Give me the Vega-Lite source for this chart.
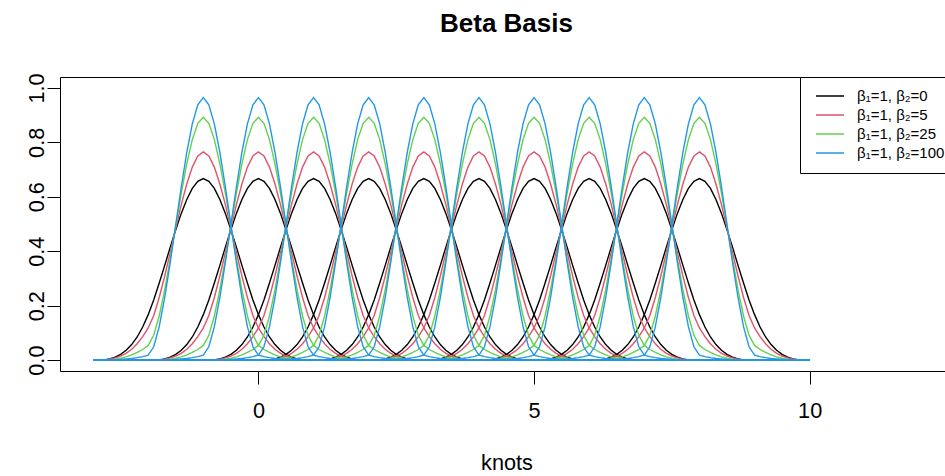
{
"$schema": "https://vega.github.io/schema/vega-lite/v6.json",
"width": 893,
"height": 294,
"autosize": {"type": "none"},
"padding": {"left": 60, "top": 77, "right": -8, "bottom": 105},
"background": "white",
"title": {"text": "Beta Basis", "anchor": "middle", "frame": "group", "font": "Liberation Sans", "fontSize": 26, "fontWeight": "bold", "color": "black", "baseline": "alphabetic", "offset": 15},
"datasets": {
"b0": [
{"k":-1,"x":-3,"y":0},{"k":-1,"x":-2.8,"y":0.001},{"k":-1,"x":-2.7,"y":0.0045},{"k":-1,"x":-2.6,"y":0.011},{"k":-1,"x":-2.5,"y":0.021},{"k":-1,"x":-2.4,"y":0.036},{"k":-1,"x":-2.3,"y":0.057},{"k":-1,"x":-2.2,"y":0.085},{"k":-1,"x":-2.1,"y":0.1215},{"k":-1,"x":-2,"y":0.167},{"k":-1,"x":-1.9,"y":0.221},{"k":-1,"x":-1.8,"y":0.283},{"k":-1,"x":-1.7,"y":0.348},{"k":-1,"x":-1.6,"y":0.415},{"k":-1,"x":-1.5,"y":0.479},{"k":-1,"x":-1.4,"y":0.539},{"k":-1,"x":-1.3,"y":0.59},{"k":-1,"x":-1.2,"y":0.631},{"k":-1,"x":-1.1,"y":0.657},{"k":-1,"x":-1,"y":0.667},{"k":-1,"x":-0.9,"y":0.657},{"k":-1,"x":-0.8,"y":0.631},{"k":-1,"x":-0.7,"y":0.59},{"k":-1,"x":-0.6,"y":0.539},{"k":-1,"x":-0.5,"y":0.479},{"k":-1,"x":-0.4,"y":0.415},{"k":-1,"x":-0.3,"y":0.348},{"k":-1,"x":-0.2,"y":0.283},{"k":-1,"x":-0.1,"y":0.221},{"k":-1,"x":0,"y":0.167},{"k":-1,"x":0.1,"y":0.1215},{"k":-1,"x":0.2,"y":0.085},{"k":-1,"x":0.3,"y":0.057},{"k":-1,"x":0.4,"y":0.036},{"k":-1,"x":0.5,"y":0.021},{"k":-1,"x":0.6,"y":0.011},{"k":-1,"x":0.7,"y":0.0045},{"k":-1,"x":0.8,"y":0.001},{"k":-1,"x":10,"y":0},
{"k":0,"x":-3,"y":0},{"k":0,"x":-1.8,"y":0.001},{"k":0,"x":-1.7,"y":0.0045},{"k":0,"x":-1.6,"y":0.011},{"k":0,"x":-1.5,"y":0.021},{"k":0,"x":-1.4,"y":0.036},{"k":0,"x":-1.3,"y":0.057},{"k":0,"x":-1.2,"y":0.085},{"k":0,"x":-1.1,"y":0.1215},{"k":0,"x":-1,"y":0.167},{"k":0,"x":-0.9,"y":0.221},{"k":0,"x":-0.8,"y":0.283},{"k":0,"x":-0.7,"y":0.348},{"k":0,"x":-0.6,"y":0.415},{"k":0,"x":-0.5,"y":0.479},{"k":0,"x":-0.4,"y":0.539},{"k":0,"x":-0.3,"y":0.59},{"k":0,"x":-0.2,"y":0.631},{"k":0,"x":-0.1,"y":0.657},{"k":0,"x":0,"y":0.667},{"k":0,"x":0.1,"y":0.657},{"k":0,"x":0.2,"y":0.631},{"k":0,"x":0.3,"y":0.59},{"k":0,"x":0.4,"y":0.539},{"k":0,"x":0.5,"y":0.479},{"k":0,"x":0.6,"y":0.415},{"k":0,"x":0.7,"y":0.348},{"k":0,"x":0.8,"y":0.283},{"k":0,"x":0.9,"y":0.221},{"k":0,"x":1,"y":0.167},{"k":0,"x":1.1,"y":0.1215},{"k":0,"x":1.2,"y":0.085},{"k":0,"x":1.3,"y":0.057},{"k":0,"x":1.4,"y":0.036},{"k":0,"x":1.5,"y":0.021},{"k":0,"x":1.6,"y":0.011},{"k":0,"x":1.7,"y":0.0045},{"k":0,"x":1.8,"y":0.001},{"k":0,"x":10,"y":0},
{"k":1,"x":-3,"y":0},{"k":1,"x":-0.8,"y":0.001},{"k":1,"x":-0.7,"y":0.0045},{"k":1,"x":-0.6,"y":0.011},{"k":1,"x":-0.5,"y":0.021},{"k":1,"x":-0.4,"y":0.036},{"k":1,"x":-0.3,"y":0.057},{"k":1,"x":-0.2,"y":0.085},{"k":1,"x":-0.1,"y":0.1215},{"k":1,"x":0,"y":0.167},{"k":1,"x":0.1,"y":0.221},{"k":1,"x":0.2,"y":0.283},{"k":1,"x":0.3,"y":0.348},{"k":1,"x":0.4,"y":0.415},{"k":1,"x":0.5,"y":0.479},{"k":1,"x":0.6,"y":0.539},{"k":1,"x":0.7,"y":0.59},{"k":1,"x":0.8,"y":0.631},{"k":1,"x":0.9,"y":0.657},{"k":1,"x":1,"y":0.667},{"k":1,"x":1.1,"y":0.657},{"k":1,"x":1.2,"y":0.631},{"k":1,"x":1.3,"y":0.59},{"k":1,"x":1.4,"y":0.539},{"k":1,"x":1.5,"y":0.479},{"k":1,"x":1.6,"y":0.415},{"k":1,"x":1.7,"y":0.348},{"k":1,"x":1.8,"y":0.283},{"k":1,"x":1.9,"y":0.221},{"k":1,"x":2,"y":0.167},{"k":1,"x":2.1,"y":0.1215},{"k":1,"x":2.2,"y":0.085},{"k":1,"x":2.3,"y":0.057},{"k":1,"x":2.4,"y":0.036},{"k":1,"x":2.5,"y":0.021},{"k":1,"x":2.6,"y":0.011},{"k":1,"x":2.7,"y":0.0045},{"k":1,"x":2.8,"y":0.001},{"k":1,"x":10,"y":0},
{"k":2,"x":-3,"y":0},{"k":2,"x":0.2,"y":0.001},{"k":2,"x":0.3,"y":0.0045},{"k":2,"x":0.4,"y":0.011},{"k":2,"x":0.5,"y":0.021},{"k":2,"x":0.6,"y":0.036},{"k":2,"x":0.7,"y":0.057},{"k":2,"x":0.8,"y":0.085},{"k":2,"x":0.9,"y":0.1215},{"k":2,"x":1,"y":0.167},{"k":2,"x":1.1,"y":0.221},{"k":2,"x":1.2,"y":0.283},{"k":2,"x":1.3,"y":0.348},{"k":2,"x":1.4,"y":0.415},{"k":2,"x":1.5,"y":0.479},{"k":2,"x":1.6,"y":0.539},{"k":2,"x":1.7,"y":0.59},{"k":2,"x":1.8,"y":0.631},{"k":2,"x":1.9,"y":0.657},{"k":2,"x":2,"y":0.667},{"k":2,"x":2.1,"y":0.657},{"k":2,"x":2.2,"y":0.631},{"k":2,"x":2.3,"y":0.59},{"k":2,"x":2.4,"y":0.539},{"k":2,"x":2.5,"y":0.479},{"k":2,"x":2.6,"y":0.415},{"k":2,"x":2.7,"y":0.348},{"k":2,"x":2.8,"y":0.283},{"k":2,"x":2.9,"y":0.221},{"k":2,"x":3,"y":0.167},{"k":2,"x":3.1,"y":0.1215},{"k":2,"x":3.2,"y":0.085},{"k":2,"x":3.3,"y":0.057},{"k":2,"x":3.4,"y":0.036},{"k":2,"x":3.5,"y":0.021},{"k":2,"x":3.6,"y":0.011},{"k":2,"x":3.7,"y":0.0045},{"k":2,"x":3.8,"y":0.001},{"k":2,"x":10,"y":0},
{"k":3,"x":-3,"y":0},{"k":3,"x":1.2,"y":0.001},{"k":3,"x":1.3,"y":0.0045},{"k":3,"x":1.4,"y":0.011},{"k":3,"x":1.5,"y":0.021},{"k":3,"x":1.6,"y":0.036},{"k":3,"x":1.7,"y":0.057},{"k":3,"x":1.8,"y":0.085},{"k":3,"x":1.9,"y":0.1215},{"k":3,"x":2,"y":0.167},{"k":3,"x":2.1,"y":0.221},{"k":3,"x":2.2,"y":0.283},{"k":3,"x":2.3,"y":0.348},{"k":3,"x":2.4,"y":0.415},{"k":3,"x":2.5,"y":0.479},{"k":3,"x":2.6,"y":0.539},{"k":3,"x":2.7,"y":0.59},{"k":3,"x":2.8,"y":0.631},{"k":3,"x":2.9,"y":0.657},{"k":3,"x":3,"y":0.667},{"k":3,"x":3.1,"y":0.657},{"k":3,"x":3.2,"y":0.631},{"k":3,"x":3.3,"y":0.59},{"k":3,"x":3.4,"y":0.539},{"k":3,"x":3.5,"y":0.479},{"k":3,"x":3.6,"y":0.415},{"k":3,"x":3.7,"y":0.348},{"k":3,"x":3.8,"y":0.283},{"k":3,"x":3.9,"y":0.221},{"k":3,"x":4,"y":0.167},{"k":3,"x":4.1,"y":0.1215},{"k":3,"x":4.2,"y":0.085},{"k":3,"x":4.3,"y":0.057},{"k":3,"x":4.4,"y":0.036},{"k":3,"x":4.5,"y":0.021},{"k":3,"x":4.6,"y":0.011},{"k":3,"x":4.7,"y":0.0045},{"k":3,"x":4.8,"y":0.001},{"k":3,"x":10,"y":0},
{"k":4,"x":-3,"y":0},{"k":4,"x":2.2,"y":0.001},{"k":4,"x":2.3,"y":0.0045},{"k":4,"x":2.4,"y":0.011},{"k":4,"x":2.5,"y":0.021},{"k":4,"x":2.6,"y":0.036},{"k":4,"x":2.7,"y":0.057},{"k":4,"x":2.8,"y":0.085},{"k":4,"x":2.9,"y":0.1215},{"k":4,"x":3,"y":0.167},{"k":4,"x":3.1,"y":0.221},{"k":4,"x":3.2,"y":0.283},{"k":4,"x":3.3,"y":0.348},{"k":4,"x":3.4,"y":0.415},{"k":4,"x":3.5,"y":0.479},{"k":4,"x":3.6,"y":0.539},{"k":4,"x":3.7,"y":0.59},{"k":4,"x":3.8,"y":0.631},{"k":4,"x":3.9,"y":0.657},{"k":4,"x":4,"y":0.667},{"k":4,"x":4.1,"y":0.657},{"k":4,"x":4.2,"y":0.631},{"k":4,"x":4.3,"y":0.59},{"k":4,"x":4.4,"y":0.539},{"k":4,"x":4.5,"y":0.479},{"k":4,"x":4.6,"y":0.415},{"k":4,"x":4.7,"y":0.348},{"k":4,"x":4.8,"y":0.283},{"k":4,"x":4.9,"y":0.221},{"k":4,"x":5,"y":0.167},{"k":4,"x":5.1,"y":0.1215},{"k":4,"x":5.2,"y":0.085},{"k":4,"x":5.3,"y":0.057},{"k":4,"x":5.4,"y":0.036},{"k":4,"x":5.5,"y":0.021},{"k":4,"x":5.6,"y":0.011},{"k":4,"x":5.7,"y":0.0045},{"k":4,"x":5.8,"y":0.001},{"k":4,"x":10,"y":0},
{"k":5,"x":-3,"y":0},{"k":5,"x":3.2,"y":0.001},{"k":5,"x":3.3,"y":0.0045},{"k":5,"x":3.4,"y":0.011},{"k":5,"x":3.5,"y":0.021},{"k":5,"x":3.6,"y":0.036},{"k":5,"x":3.7,"y":0.057},{"k":5,"x":3.8,"y":0.085},{"k":5,"x":3.9,"y":0.1215},{"k":5,"x":4,"y":0.167},{"k":5,"x":4.1,"y":0.221},{"k":5,"x":4.2,"y":0.283},{"k":5,"x":4.3,"y":0.348},{"k":5,"x":4.4,"y":0.415},{"k":5,"x":4.5,"y":0.479},{"k":5,"x":4.6,"y":0.539},{"k":5,"x":4.7,"y":0.59},{"k":5,"x":4.8,"y":0.631},{"k":5,"x":4.9,"y":0.657},{"k":5,"x":5,"y":0.667},{"k":5,"x":5.1,"y":0.657},{"k":5,"x":5.2,"y":0.631},{"k":5,"x":5.3,"y":0.59},{"k":5,"x":5.4,"y":0.539},{"k":5,"x":5.5,"y":0.479},{"k":5,"x":5.6,"y":0.415},{"k":5,"x":5.7,"y":0.348},{"k":5,"x":5.8,"y":0.283},{"k":5,"x":5.9,"y":0.221},{"k":5,"x":6,"y":0.167},{"k":5,"x":6.1,"y":0.1215},{"k":5,"x":6.2,"y":0.085},{"k":5,"x":6.3,"y":0.057},{"k":5,"x":6.4,"y":0.036},{"k":5,"x":6.5,"y":0.021},{"k":5,"x":6.6,"y":0.011},{"k":5,"x":6.7,"y":0.0045},{"k":5,"x":6.8,"y":0.001},{"k":5,"x":10,"y":0},
{"k":6,"x":-3,"y":0},{"k":6,"x":4.2,"y":0.001},{"k":6,"x":4.3,"y":0.0045},{"k":6,"x":4.4,"y":0.011},{"k":6,"x":4.5,"y":0.021},{"k":6,"x":4.6,"y":0.036},{"k":6,"x":4.7,"y":0.057},{"k":6,"x":4.8,"y":0.085},{"k":6,"x":4.9,"y":0.1215},{"k":6,"x":5,"y":0.167},{"k":6,"x":5.1,"y":0.221},{"k":6,"x":5.2,"y":0.283},{"k":6,"x":5.3,"y":0.348},{"k":6,"x":5.4,"y":0.415},{"k":6,"x":5.5,"y":0.479},{"k":6,"x":5.6,"y":0.539},{"k":6,"x":5.7,"y":0.59},{"k":6,"x":5.8,"y":0.631},{"k":6,"x":5.9,"y":0.657},{"k":6,"x":6,"y":0.667},{"k":6,"x":6.1,"y":0.657},{"k":6,"x":6.2,"y":0.631},{"k":6,"x":6.3,"y":0.59},{"k":6,"x":6.4,"y":0.539},{"k":6,"x":6.5,"y":0.479},{"k":6,"x":6.6,"y":0.415},{"k":6,"x":6.7,"y":0.348},{"k":6,"x":6.8,"y":0.283},{"k":6,"x":6.9,"y":0.221},{"k":6,"x":7,"y":0.167},{"k":6,"x":7.1,"y":0.1215},{"k":6,"x":7.2,"y":0.085},{"k":6,"x":7.3,"y":0.057},{"k":6,"x":7.4,"y":0.036},{"k":6,"x":7.5,"y":0.021},{"k":6,"x":7.6,"y":0.011},{"k":6,"x":7.7,"y":0.0045},{"k":6,"x":7.8,"y":0.001},{"k":6,"x":10,"y":0},
{"k":7,"x":-3,"y":0},{"k":7,"x":5.2,"y":0.001},{"k":7,"x":5.3,"y":0.0045},{"k":7,"x":5.4,"y":0.011},{"k":7,"x":5.5,"y":0.021},{"k":7,"x":5.6,"y":0.036},{"k":7,"x":5.7,"y":0.057},{"k":7,"x":5.8,"y":0.085},{"k":7,"x":5.9,"y":0.1215},{"k":7,"x":6,"y":0.167},{"k":7,"x":6.1,"y":0.221},{"k":7,"x":6.2,"y":0.283},{"k":7,"x":6.3,"y":0.348},{"k":7,"x":6.4,"y":0.415},{"k":7,"x":6.5,"y":0.479},{"k":7,"x":6.6,"y":0.539},{"k":7,"x":6.7,"y":0.59},{"k":7,"x":6.8,"y":0.631},{"k":7,"x":6.9,"y":0.657},{"k":7,"x":7,"y":0.667},{"k":7,"x":7.1,"y":0.657},{"k":7,"x":7.2,"y":0.631},{"k":7,"x":7.3,"y":0.59},{"k":7,"x":7.4,"y":0.539},{"k":7,"x":7.5,"y":0.479},{"k":7,"x":7.6,"y":0.415},{"k":7,"x":7.7,"y":0.348},{"k":7,"x":7.8,"y":0.283},{"k":7,"x":7.9,"y":0.221},{"k":7,"x":8,"y":0.167},{"k":7,"x":8.1,"y":0.1215},{"k":7,"x":8.2,"y":0.085},{"k":7,"x":8.3,"y":0.057},{"k":7,"x":8.4,"y":0.036},{"k":7,"x":8.5,"y":0.021},{"k":7,"x":8.6,"y":0.011},{"k":7,"x":8.7,"y":0.0045},{"k":7,"x":8.8,"y":0.001},{"k":7,"x":10,"y":0},
{"k":8,"x":-3,"y":0},{"k":8,"x":6.2,"y":0.001},{"k":8,"x":6.3,"y":0.0045},{"k":8,"x":6.4,"y":0.011},{"k":8,"x":6.5,"y":0.021},{"k":8,"x":6.6,"y":0.036},{"k":8,"x":6.7,"y":0.057},{"k":8,"x":6.8,"y":0.085},{"k":8,"x":6.9,"y":0.1215},{"k":8,"x":7,"y":0.167},{"k":8,"x":7.1,"y":0.221},{"k":8,"x":7.2,"y":0.283},{"k":8,"x":7.3,"y":0.348},{"k":8,"x":7.4,"y":0.415},{"k":8,"x":7.5,"y":0.479},{"k":8,"x":7.6,"y":0.539},{"k":8,"x":7.7,"y":0.59},{"k":8,"x":7.8,"y":0.631},{"k":8,"x":7.9,"y":0.657},{"k":8,"x":8,"y":0.667},{"k":8,"x":8.1,"y":0.657},{"k":8,"x":8.2,"y":0.631},{"k":8,"x":8.3,"y":0.59},{"k":8,"x":8.4,"y":0.539},{"k":8,"x":8.5,"y":0.479},{"k":8,"x":8.6,"y":0.415},{"k":8,"x":8.7,"y":0.348},{"k":8,"x":8.8,"y":0.283},{"k":8,"x":8.9,"y":0.221},{"k":8,"x":9,"y":0.167},{"k":8,"x":9.1,"y":0.1215},{"k":8,"x":9.2,"y":0.085},{"k":8,"x":9.3,"y":0.057},{"k":8,"x":9.4,"y":0.036},{"k":8,"x":9.5,"y":0.021},{"k":8,"x":9.6,"y":0.011},{"k":8,"x":9.7,"y":0.0045},{"k":8,"x":9.8,"y":0.001},{"k":8,"x":10,"y":0}
],
"b5": [
{"k":-1,"x":-3,"y":0},{"k":-1,"x":-2.8,"y":0.001},{"k":-1,"x":-2.7,"y":0.003},{"k":-1,"x":-2.6,"y":0.008},{"k":-1,"x":-2.5,"y":0.015},{"k":-1,"x":-2.4,"y":0.025},{"k":-1,"x":-2.3,"y":0.04},{"k":-1,"x":-2.2,"y":0.06},{"k":-1,"x":-2.1,"y":0.086},{"k":-1,"x":-2,"y":0.118},{"k":-1,"x":-1.9,"y":0.164},{"k":-1,"x":-1.8,"y":0.23},{"k":-1,"x":-1.7,"y":0.309},{"k":-1,"x":-1.6,"y":0.396},{"k":-1,"x":-1.5,"y":0.485},{"k":-1,"x":-1.4,"y":0.571},{"k":-1,"x":-1.3,"y":0.647},{"k":-1,"x":-1.2,"y":0.709},{"k":-1,"x":-1.1,"y":0.75},{"k":-1,"x":-1,"y":0.765},{"k":-1,"x":-0.9,"y":0.75},{"k":-1,"x":-0.8,"y":0.709},{"k":-1,"x":-0.7,"y":0.647},{"k":-1,"x":-0.6,"y":0.571},{"k":-1,"x":-0.5,"y":0.485},{"k":-1,"x":-0.4,"y":0.396},{"k":-1,"x":-0.3,"y":0.309},{"k":-1,"x":-0.2,"y":0.23},{"k":-1,"x":-0.1,"y":0.164},{"k":-1,"x":0,"y":0.118},{"k":-1,"x":0.1,"y":0.086},{"k":-1,"x":0.2,"y":0.06},{"k":-1,"x":0.3,"y":0.04},{"k":-1,"x":0.4,"y":0.025},{"k":-1,"x":0.5,"y":0.015},{"k":-1,"x":0.6,"y":0.008},{"k":-1,"x":0.7,"y":0.003},{"k":-1,"x":0.8,"y":0.001},{"k":-1,"x":10,"y":0},
{"k":0,"x":-3,"y":0},{"k":0,"x":-1.8,"y":0.001},{"k":0,"x":-1.7,"y":0.003},{"k":0,"x":-1.6,"y":0.008},{"k":0,"x":-1.5,"y":0.015},{"k":0,"x":-1.4,"y":0.025},{"k":0,"x":-1.3,"y":0.04},{"k":0,"x":-1.2,"y":0.06},{"k":0,"x":-1.1,"y":0.086},{"k":0,"x":-1,"y":0.118},{"k":0,"x":-0.9,"y":0.164},{"k":0,"x":-0.8,"y":0.23},{"k":0,"x":-0.7,"y":0.309},{"k":0,"x":-0.6,"y":0.396},{"k":0,"x":-0.5,"y":0.485},{"k":0,"x":-0.4,"y":0.571},{"k":0,"x":-0.3,"y":0.647},{"k":0,"x":-0.2,"y":0.709},{"k":0,"x":-0.1,"y":0.75},{"k":0,"x":0,"y":0.765},{"k":0,"x":0.1,"y":0.75},{"k":0,"x":0.2,"y":0.709},{"k":0,"x":0.3,"y":0.647},{"k":0,"x":0.4,"y":0.571},{"k":0,"x":0.5,"y":0.485},{"k":0,"x":0.6,"y":0.396},{"k":0,"x":0.7,"y":0.309},{"k":0,"x":0.8,"y":0.23},{"k":0,"x":0.9,"y":0.164},{"k":0,"x":1,"y":0.118},{"k":0,"x":1.1,"y":0.086},{"k":0,"x":1.2,"y":0.06},{"k":0,"x":1.3,"y":0.04},{"k":0,"x":1.4,"y":0.025},{"k":0,"x":1.5,"y":0.015},{"k":0,"x":1.6,"y":0.008},{"k":0,"x":1.7,"y":0.003},{"k":0,"x":1.8,"y":0.001},{"k":0,"x":10,"y":0},
{"k":1,"x":-3,"y":0},{"k":1,"x":-0.8,"y":0.001},{"k":1,"x":-0.7,"y":0.003},{"k":1,"x":-0.6,"y":0.008},{"k":1,"x":-0.5,"y":0.015},{"k":1,"x":-0.4,"y":0.025},{"k":1,"x":-0.3,"y":0.04},{"k":1,"x":-0.2,"y":0.06},{"k":1,"x":-0.1,"y":0.086},{"k":1,"x":0,"y":0.118},{"k":1,"x":0.1,"y":0.164},{"k":1,"x":0.2,"y":0.23},{"k":1,"x":0.3,"y":0.309},{"k":1,"x":0.4,"y":0.396},{"k":1,"x":0.5,"y":0.485},{"k":1,"x":0.6,"y":0.571},{"k":1,"x":0.7,"y":0.647},{"k":1,"x":0.8,"y":0.709},{"k":1,"x":0.9,"y":0.75},{"k":1,"x":1,"y":0.765},{"k":1,"x":1.1,"y":0.75},{"k":1,"x":1.2,"y":0.709},{"k":1,"x":1.3,"y":0.647},{"k":1,"x":1.4,"y":0.571},{"k":1,"x":1.5,"y":0.485},{"k":1,"x":1.6,"y":0.396},{"k":1,"x":1.7,"y":0.309},{"k":1,"x":1.8,"y":0.23},{"k":1,"x":1.9,"y":0.164},{"k":1,"x":2,"y":0.118},{"k":1,"x":2.1,"y":0.086},{"k":1,"x":2.2,"y":0.06},{"k":1,"x":2.3,"y":0.04},{"k":1,"x":2.4,"y":0.025},{"k":1,"x":2.5,"y":0.015},{"k":1,"x":2.6,"y":0.008},{"k":1,"x":2.7,"y":0.003},{"k":1,"x":2.8,"y":0.001},{"k":1,"x":10,"y":0},
{"k":2,"x":-3,"y":0},{"k":2,"x":0.2,"y":0.001},{"k":2,"x":0.3,"y":0.003},{"k":2,"x":0.4,"y":0.008},{"k":2,"x":0.5,"y":0.015},{"k":2,"x":0.6,"y":0.025},{"k":2,"x":0.7,"y":0.04},{"k":2,"x":0.8,"y":0.06},{"k":2,"x":0.9,"y":0.086},{"k":2,"x":1,"y":0.118},{"k":2,"x":1.1,"y":0.164},{"k":2,"x":1.2,"y":0.23},{"k":2,"x":1.3,"y":0.309},{"k":2,"x":1.4,"y":0.396},{"k":2,"x":1.5,"y":0.485},{"k":2,"x":1.6,"y":0.571},{"k":2,"x":1.7,"y":0.647},{"k":2,"x":1.8,"y":0.709},{"k":2,"x":1.9,"y":0.75},{"k":2,"x":2,"y":0.765},{"k":2,"x":2.1,"y":0.75},{"k":2,"x":2.2,"y":0.709},{"k":2,"x":2.3,"y":0.647},{"k":2,"x":2.4,"y":0.571},{"k":2,"x":2.5,"y":0.485},{"k":2,"x":2.6,"y":0.396},{"k":2,"x":2.7,"y":0.309},{"k":2,"x":2.8,"y":0.23},{"k":2,"x":2.9,"y":0.164},{"k":2,"x":3,"y":0.118},{"k":2,"x":3.1,"y":0.086},{"k":2,"x":3.2,"y":0.06},{"k":2,"x":3.3,"y":0.04},{"k":2,"x":3.4,"y":0.025},{"k":2,"x":3.5,"y":0.015},{"k":2,"x":3.6,"y":0.008},{"k":2,"x":3.7,"y":0.003},{"k":2,"x":3.8,"y":0.001},{"k":2,"x":10,"y":0},
{"k":3,"x":-3,"y":0},{"k":3,"x":1.2,"y":0.001},{"k":3,"x":1.3,"y":0.003},{"k":3,"x":1.4,"y":0.008},{"k":3,"x":1.5,"y":0.015},{"k":3,"x":1.6,"y":0.025},{"k":3,"x":1.7,"y":0.04},{"k":3,"x":1.8,"y":0.06},{"k":3,"x":1.9,"y":0.086},{"k":3,"x":2,"y":0.118},{"k":3,"x":2.1,"y":0.164},{"k":3,"x":2.2,"y":0.23},{"k":3,"x":2.3,"y":0.309},{"k":3,"x":2.4,"y":0.396},{"k":3,"x":2.5,"y":0.485},{"k":3,"x":2.6,"y":0.571},{"k":3,"x":2.7,"y":0.647},{"k":3,"x":2.8,"y":0.709},{"k":3,"x":2.9,"y":0.75},{"k":3,"x":3,"y":0.765},{"k":3,"x":3.1,"y":0.75},{"k":3,"x":3.2,"y":0.709},{"k":3,"x":3.3,"y":0.647},{"k":3,"x":3.4,"y":0.571},{"k":3,"x":3.5,"y":0.485},{"k":3,"x":3.6,"y":0.396},{"k":3,"x":3.7,"y":0.309},{"k":3,"x":3.8,"y":0.23},{"k":3,"x":3.9,"y":0.164},{"k":3,"x":4,"y":0.118},{"k":3,"x":4.1,"y":0.086},{"k":3,"x":4.2,"y":0.06},{"k":3,"x":4.3,"y":0.04},{"k":3,"x":4.4,"y":0.025},{"k":3,"x":4.5,"y":0.015},{"k":3,"x":4.6,"y":0.008},{"k":3,"x":4.7,"y":0.003},{"k":3,"x":4.8,"y":0.001},{"k":3,"x":10,"y":0},
{"k":4,"x":-3,"y":0},{"k":4,"x":2.2,"y":0.001},{"k":4,"x":2.3,"y":0.003},{"k":4,"x":2.4,"y":0.008},{"k":4,"x":2.5,"y":0.015},{"k":4,"x":2.6,"y":0.025},{"k":4,"x":2.7,"y":0.04},{"k":4,"x":2.8,"y":0.06},{"k":4,"x":2.9,"y":0.086},{"k":4,"x":3,"y":0.118},{"k":4,"x":3.1,"y":0.164},{"k":4,"x":3.2,"y":0.23},{"k":4,"x":3.3,"y":0.309},{"k":4,"x":3.4,"y":0.396},{"k":4,"x":3.5,"y":0.485},{"k":4,"x":3.6,"y":0.571},{"k":4,"x":3.7,"y":0.647},{"k":4,"x":3.8,"y":0.709},{"k":4,"x":3.9,"y":0.75},{"k":4,"x":4,"y":0.765},{"k":4,"x":4.1,"y":0.75},{"k":4,"x":4.2,"y":0.709},{"k":4,"x":4.3,"y":0.647},{"k":4,"x":4.4,"y":0.571},{"k":4,"x":4.5,"y":0.485},{"k":4,"x":4.6,"y":0.396},{"k":4,"x":4.7,"y":0.309},{"k":4,"x":4.8,"y":0.23},{"k":4,"x":4.9,"y":0.164},{"k":4,"x":5,"y":0.118},{"k":4,"x":5.1,"y":0.086},{"k":4,"x":5.2,"y":0.06},{"k":4,"x":5.3,"y":0.04},{"k":4,"x":5.4,"y":0.025},{"k":4,"x":5.5,"y":0.015},{"k":4,"x":5.6,"y":0.008},{"k":4,"x":5.7,"y":0.003},{"k":4,"x":5.8,"y":0.001},{"k":4,"x":10,"y":0},
{"k":5,"x":-3,"y":0},{"k":5,"x":3.2,"y":0.001},{"k":5,"x":3.3,"y":0.003},{"k":5,"x":3.4,"y":0.008},{"k":5,"x":3.5,"y":0.015},{"k":5,"x":3.6,"y":0.025},{"k":5,"x":3.7,"y":0.04},{"k":5,"x":3.8,"y":0.06},{"k":5,"x":3.9,"y":0.086},{"k":5,"x":4,"y":0.118},{"k":5,"x":4.1,"y":0.164},{"k":5,"x":4.2,"y":0.23},{"k":5,"x":4.3,"y":0.309},{"k":5,"x":4.4,"y":0.396},{"k":5,"x":4.5,"y":0.485},{"k":5,"x":4.6,"y":0.571},{"k":5,"x":4.7,"y":0.647},{"k":5,"x":4.8,"y":0.709},{"k":5,"x":4.9,"y":0.75},{"k":5,"x":5,"y":0.765},{"k":5,"x":5.1,"y":0.75},{"k":5,"x":5.2,"y":0.709},{"k":5,"x":5.3,"y":0.647},{"k":5,"x":5.4,"y":0.571},{"k":5,"x":5.5,"y":0.485},{"k":5,"x":5.6,"y":0.396},{"k":5,"x":5.7,"y":0.309},{"k":5,"x":5.8,"y":0.23},{"k":5,"x":5.9,"y":0.164},{"k":5,"x":6,"y":0.118},{"k":5,"x":6.1,"y":0.086},{"k":5,"x":6.2,"y":0.06},{"k":5,"x":6.3,"y":0.04},{"k":5,"x":6.4,"y":0.025},{"k":5,"x":6.5,"y":0.015},{"k":5,"x":6.6,"y":0.008},{"k":5,"x":6.7,"y":0.003},{"k":5,"x":6.8,"y":0.001},{"k":5,"x":10,"y":0},
{"k":6,"x":-3,"y":0},{"k":6,"x":4.2,"y":0.001},{"k":6,"x":4.3,"y":0.003},{"k":6,"x":4.4,"y":0.008},{"k":6,"x":4.5,"y":0.015},{"k":6,"x":4.6,"y":0.025},{"k":6,"x":4.7,"y":0.04},{"k":6,"x":4.8,"y":0.06},{"k":6,"x":4.9,"y":0.086},{"k":6,"x":5,"y":0.118},{"k":6,"x":5.1,"y":0.164},{"k":6,"x":5.2,"y":0.23},{"k":6,"x":5.3,"y":0.309},{"k":6,"x":5.4,"y":0.396},{"k":6,"x":5.5,"y":0.485},{"k":6,"x":5.6,"y":0.571},{"k":6,"x":5.7,"y":0.647},{"k":6,"x":5.8,"y":0.709},{"k":6,"x":5.9,"y":0.75},{"k":6,"x":6,"y":0.765},{"k":6,"x":6.1,"y":0.75},{"k":6,"x":6.2,"y":0.709},{"k":6,"x":6.3,"y":0.647},{"k":6,"x":6.4,"y":0.571},{"k":6,"x":6.5,"y":0.485},{"k":6,"x":6.6,"y":0.396},{"k":6,"x":6.7,"y":0.309},{"k":6,"x":6.8,"y":0.23},{"k":6,"x":6.9,"y":0.164},{"k":6,"x":7,"y":0.118},{"k":6,"x":7.1,"y":0.086},{"k":6,"x":7.2,"y":0.06},{"k":6,"x":7.3,"y":0.04},{"k":6,"x":7.4,"y":0.025},{"k":6,"x":7.5,"y":0.015},{"k":6,"x":7.6,"y":0.008},{"k":6,"x":7.7,"y":0.003},{"k":6,"x":7.8,"y":0.001},{"k":6,"x":10,"y":0},
{"k":7,"x":-3,"y":0},{"k":7,"x":5.2,"y":0.001},{"k":7,"x":5.3,"y":0.003},{"k":7,"x":5.4,"y":0.008},{"k":7,"x":5.5,"y":0.015},{"k":7,"x":5.6,"y":0.025},{"k":7,"x":5.7,"y":0.04},{"k":7,"x":5.8,"y":0.06},{"k":7,"x":5.9,"y":0.086},{"k":7,"x":6,"y":0.118},{"k":7,"x":6.1,"y":0.164},{"k":7,"x":6.2,"y":0.23},{"k":7,"x":6.3,"y":0.309},{"k":7,"x":6.4,"y":0.396},{"k":7,"x":6.5,"y":0.485},{"k":7,"x":6.6,"y":0.571},{"k":7,"x":6.7,"y":0.647},{"k":7,"x":6.8,"y":0.709},{"k":7,"x":6.9,"y":0.75},{"k":7,"x":7,"y":0.765},{"k":7,"x":7.1,"y":0.75},{"k":7,"x":7.2,"y":0.709},{"k":7,"x":7.3,"y":0.647},{"k":7,"x":7.4,"y":0.571},{"k":7,"x":7.5,"y":0.485},{"k":7,"x":7.6,"y":0.396},{"k":7,"x":7.7,"y":0.309},{"k":7,"x":7.8,"y":0.23},{"k":7,"x":7.9,"y":0.164},{"k":7,"x":8,"y":0.118},{"k":7,"x":8.1,"y":0.086},{"k":7,"x":8.2,"y":0.06},{"k":7,"x":8.3,"y":0.04},{"k":7,"x":8.4,"y":0.025},{"k":7,"x":8.5,"y":0.015},{"k":7,"x":8.6,"y":0.008},{"k":7,"x":8.7,"y":0.003},{"k":7,"x":8.8,"y":0.001},{"k":7,"x":10,"y":0},
{"k":8,"x":-3,"y":0},{"k":8,"x":6.2,"y":0.001},{"k":8,"x":6.3,"y":0.003},{"k":8,"x":6.4,"y":0.008},{"k":8,"x":6.5,"y":0.015},{"k":8,"x":6.6,"y":0.025},{"k":8,"x":6.7,"y":0.04},{"k":8,"x":6.8,"y":0.06},{"k":8,"x":6.9,"y":0.086},{"k":8,"x":7,"y":0.118},{"k":8,"x":7.1,"y":0.164},{"k":8,"x":7.2,"y":0.23},{"k":8,"x":7.3,"y":0.309},{"k":8,"x":7.4,"y":0.396},{"k":8,"x":7.5,"y":0.485},{"k":8,"x":7.6,"y":0.571},{"k":8,"x":7.7,"y":0.647},{"k":8,"x":7.8,"y":0.709},{"k":8,"x":7.9,"y":0.75},{"k":8,"x":8,"y":0.765},{"k":8,"x":8.1,"y":0.75},{"k":8,"x":8.2,"y":0.709},{"k":8,"x":8.3,"y":0.647},{"k":8,"x":8.4,"y":0.571},{"k":8,"x":8.5,"y":0.485},{"k":8,"x":8.6,"y":0.396},{"k":8,"x":8.7,"y":0.309},{"k":8,"x":8.8,"y":0.23},{"k":8,"x":8.9,"y":0.164},{"k":8,"x":9,"y":0.118},{"k":8,"x":9.1,"y":0.086},{"k":8,"x":9.2,"y":0.06},{"k":8,"x":9.3,"y":0.04},{"k":8,"x":9.4,"y":0.025},{"k":8,"x":9.5,"y":0.015},{"k":8,"x":9.6,"y":0.008},{"k":8,"x":9.7,"y":0.003},{"k":8,"x":9.8,"y":0.001},{"k":8,"x":10,"y":0}
],
"b25": [
{"k":-1,"x":-3,"y":0},{"k":-1,"x":-2.7,"y":0.001},{"k":-1,"x":-2.6,"y":0.003},{"k":-1,"x":-2.5,"y":0.007},{"k":-1,"x":-2.4,"y":0.012},{"k":-1,"x":-2.3,"y":0.019},{"k":-1,"x":-2.2,"y":0.028},{"k":-1,"x":-2.1,"y":0.039},{"k":-1,"x":-2,"y":0.054},{"k":-1,"x":-1.9,"y":0.091},{"k":-1,"x":-1.8,"y":0.162},{"k":-1,"x":-1.7,"y":0.259},{"k":-1,"x":-1.6,"y":0.372},{"k":-1,"x":-1.5,"y":0.493},{"k":-1,"x":-1.4,"y":0.613},{"k":-1,"x":-1.3,"y":0.721},{"k":-1,"x":-1.2,"y":0.81},{"k":-1,"x":-1.1,"y":0.87},{"k":-1,"x":-1,"y":0.892},{"k":-1,"x":-0.9,"y":0.87},{"k":-1,"x":-0.8,"y":0.81},{"k":-1,"x":-0.7,"y":0.721},{"k":-1,"x":-0.6,"y":0.613},{"k":-1,"x":-0.5,"y":0.493},{"k":-1,"x":-0.4,"y":0.372},{"k":-1,"x":-0.3,"y":0.259},{"k":-1,"x":-0.2,"y":0.162},{"k":-1,"x":-0.1,"y":0.091},{"k":-1,"x":0,"y":0.054},{"k":-1,"x":0.1,"y":0.039},{"k":-1,"x":0.2,"y":0.028},{"k":-1,"x":0.3,"y":0.019},{"k":-1,"x":0.4,"y":0.012},{"k":-1,"x":0.5,"y":0.007},{"k":-1,"x":0.6,"y":0.003},{"k":-1,"x":0.7,"y":0.001},{"k":-1,"x":10,"y":0},
{"k":0,"x":-3,"y":0},{"k":0,"x":-1.7,"y":0.001},{"k":0,"x":-1.6,"y":0.003},{"k":0,"x":-1.5,"y":0.007},{"k":0,"x":-1.4,"y":0.012},{"k":0,"x":-1.3,"y":0.019},{"k":0,"x":-1.2,"y":0.028},{"k":0,"x":-1.1,"y":0.039},{"k":0,"x":-1,"y":0.054},{"k":0,"x":-0.9,"y":0.091},{"k":0,"x":-0.8,"y":0.162},{"k":0,"x":-0.7,"y":0.259},{"k":0,"x":-0.6,"y":0.372},{"k":0,"x":-0.5,"y":0.493},{"k":0,"x":-0.4,"y":0.613},{"k":0,"x":-0.3,"y":0.721},{"k":0,"x":-0.2,"y":0.81},{"k":0,"x":-0.1,"y":0.87},{"k":0,"x":0,"y":0.892},{"k":0,"x":0.1,"y":0.87},{"k":0,"x":0.2,"y":0.81},{"k":0,"x":0.3,"y":0.721},{"k":0,"x":0.4,"y":0.613},{"k":0,"x":0.5,"y":0.493},{"k":0,"x":0.6,"y":0.372},{"k":0,"x":0.7,"y":0.259},{"k":0,"x":0.8,"y":0.162},{"k":0,"x":0.9,"y":0.091},{"k":0,"x":1,"y":0.054},{"k":0,"x":1.1,"y":0.039},{"k":0,"x":1.2,"y":0.028},{"k":0,"x":1.3,"y":0.019},{"k":0,"x":1.4,"y":0.012},{"k":0,"x":1.5,"y":0.007},{"k":0,"x":1.6,"y":0.003},{"k":0,"x":1.7,"y":0.001},{"k":0,"x":10,"y":0},
{"k":1,"x":-3,"y":0},{"k":1,"x":-0.7,"y":0.001},{"k":1,"x":-0.6,"y":0.003},{"k":1,"x":-0.5,"y":0.007},{"k":1,"x":-0.4,"y":0.012},{"k":1,"x":-0.3,"y":0.019},{"k":1,"x":-0.2,"y":0.028},{"k":1,"x":-0.1,"y":0.039},{"k":1,"x":0,"y":0.054},{"k":1,"x":0.1,"y":0.091},{"k":1,"x":0.2,"y":0.162},{"k":1,"x":0.3,"y":0.259},{"k":1,"x":0.4,"y":0.372},{"k":1,"x":0.5,"y":0.493},{"k":1,"x":0.6,"y":0.613},{"k":1,"x":0.7,"y":0.721},{"k":1,"x":0.8,"y":0.81},{"k":1,"x":0.9,"y":0.87},{"k":1,"x":1,"y":0.892},{"k":1,"x":1.1,"y":0.87},{"k":1,"x":1.2,"y":0.81},{"k":1,"x":1.3,"y":0.721},{"k":1,"x":1.4,"y":0.613},{"k":1,"x":1.5,"y":0.493},{"k":1,"x":1.6,"y":0.372},{"k":1,"x":1.7,"y":0.259},{"k":1,"x":1.8,"y":0.162},{"k":1,"x":1.9,"y":0.091},{"k":1,"x":2,"y":0.054},{"k":1,"x":2.1,"y":0.039},{"k":1,"x":2.2,"y":0.028},{"k":1,"x":2.3,"y":0.019},{"k":1,"x":2.4,"y":0.012},{"k":1,"x":2.5,"y":0.007},{"k":1,"x":2.6,"y":0.003},{"k":1,"x":2.7,"y":0.001},{"k":1,"x":10,"y":0},
{"k":2,"x":-3,"y":0},{"k":2,"x":0.3,"y":0.001},{"k":2,"x":0.4,"y":0.003},{"k":2,"x":0.5,"y":0.007},{"k":2,"x":0.6,"y":0.012},{"k":2,"x":0.7,"y":0.019},{"k":2,"x":0.8,"y":0.028},{"k":2,"x":0.9,"y":0.039},{"k":2,"x":1,"y":0.054},{"k":2,"x":1.1,"y":0.091},{"k":2,"x":1.2,"y":0.162},{"k":2,"x":1.3,"y":0.259},{"k":2,"x":1.4,"y":0.372},{"k":2,"x":1.5,"y":0.493},{"k":2,"x":1.6,"y":0.613},{"k":2,"x":1.7,"y":0.721},{"k":2,"x":1.8,"y":0.81},{"k":2,"x":1.9,"y":0.87},{"k":2,"x":2,"y":0.892},{"k":2,"x":2.1,"y":0.87},{"k":2,"x":2.2,"y":0.81},{"k":2,"x":2.3,"y":0.721},{"k":2,"x":2.4,"y":0.613},{"k":2,"x":2.5,"y":0.493},{"k":2,"x":2.6,"y":0.372},{"k":2,"x":2.7,"y":0.259},{"k":2,"x":2.8,"y":0.162},{"k":2,"x":2.9,"y":0.091},{"k":2,"x":3,"y":0.054},{"k":2,"x":3.1,"y":0.039},{"k":2,"x":3.2,"y":0.028},{"k":2,"x":3.3,"y":0.019},{"k":2,"x":3.4,"y":0.012},{"k":2,"x":3.5,"y":0.007},{"k":2,"x":3.6,"y":0.003},{"k":2,"x":3.7,"y":0.001},{"k":2,"x":10,"y":0},
{"k":3,"x":-3,"y":0},{"k":3,"x":1.3,"y":0.001},{"k":3,"x":1.4,"y":0.003},{"k":3,"x":1.5,"y":0.007},{"k":3,"x":1.6,"y":0.012},{"k":3,"x":1.7,"y":0.019},{"k":3,"x":1.8,"y":0.028},{"k":3,"x":1.9,"y":0.039},{"k":3,"x":2,"y":0.054},{"k":3,"x":2.1,"y":0.091},{"k":3,"x":2.2,"y":0.162},{"k":3,"x":2.3,"y":0.259},{"k":3,"x":2.4,"y":0.372},{"k":3,"x":2.5,"y":0.493},{"k":3,"x":2.6,"y":0.613},{"k":3,"x":2.7,"y":0.721},{"k":3,"x":2.8,"y":0.81},{"k":3,"x":2.9,"y":0.87},{"k":3,"x":3,"y":0.892},{"k":3,"x":3.1,"y":0.87},{"k":3,"x":3.2,"y":0.81},{"k":3,"x":3.3,"y":0.721},{"k":3,"x":3.4,"y":0.613},{"k":3,"x":3.5,"y":0.493},{"k":3,"x":3.6,"y":0.372},{"k":3,"x":3.7,"y":0.259},{"k":3,"x":3.8,"y":0.162},{"k":3,"x":3.9,"y":0.091},{"k":3,"x":4,"y":0.054},{"k":3,"x":4.1,"y":0.039},{"k":3,"x":4.2,"y":0.028},{"k":3,"x":4.3,"y":0.019},{"k":3,"x":4.4,"y":0.012},{"k":3,"x":4.5,"y":0.007},{"k":3,"x":4.6,"y":0.003},{"k":3,"x":4.7,"y":0.001},{"k":3,"x":10,"y":0},
{"k":4,"x":-3,"y":0},{"k":4,"x":2.3,"y":0.001},{"k":4,"x":2.4,"y":0.003},{"k":4,"x":2.5,"y":0.007},{"k":4,"x":2.6,"y":0.012},{"k":4,"x":2.7,"y":0.019},{"k":4,"x":2.8,"y":0.028},{"k":4,"x":2.9,"y":0.039},{"k":4,"x":3,"y":0.054},{"k":4,"x":3.1,"y":0.091},{"k":4,"x":3.2,"y":0.162},{"k":4,"x":3.3,"y":0.259},{"k":4,"x":3.4,"y":0.372},{"k":4,"x":3.5,"y":0.493},{"k":4,"x":3.6,"y":0.613},{"k":4,"x":3.7,"y":0.721},{"k":4,"x":3.8,"y":0.81},{"k":4,"x":3.9,"y":0.87},{"k":4,"x":4,"y":0.892},{"k":4,"x":4.1,"y":0.87},{"k":4,"x":4.2,"y":0.81},{"k":4,"x":4.3,"y":0.721},{"k":4,"x":4.4,"y":0.613},{"k":4,"x":4.5,"y":0.493},{"k":4,"x":4.6,"y":0.372},{"k":4,"x":4.7,"y":0.259},{"k":4,"x":4.8,"y":0.162},{"k":4,"x":4.9,"y":0.091},{"k":4,"x":5,"y":0.054},{"k":4,"x":5.1,"y":0.039},{"k":4,"x":5.2,"y":0.028},{"k":4,"x":5.3,"y":0.019},{"k":4,"x":5.4,"y":0.012},{"k":4,"x":5.5,"y":0.007},{"k":4,"x":5.6,"y":0.003},{"k":4,"x":5.7,"y":0.001},{"k":4,"x":10,"y":0},
{"k":5,"x":-3,"y":0},{"k":5,"x":3.3,"y":0.001},{"k":5,"x":3.4,"y":0.003},{"k":5,"x":3.5,"y":0.007},{"k":5,"x":3.6,"y":0.012},{"k":5,"x":3.7,"y":0.019},{"k":5,"x":3.8,"y":0.028},{"k":5,"x":3.9,"y":0.039},{"k":5,"x":4,"y":0.054},{"k":5,"x":4.1,"y":0.091},{"k":5,"x":4.2,"y":0.162},{"k":5,"x":4.3,"y":0.259},{"k":5,"x":4.4,"y":0.372},{"k":5,"x":4.5,"y":0.493},{"k":5,"x":4.6,"y":0.613},{"k":5,"x":4.7,"y":0.721},{"k":5,"x":4.8,"y":0.81},{"k":5,"x":4.9,"y":0.87},{"k":5,"x":5,"y":0.892},{"k":5,"x":5.1,"y":0.87},{"k":5,"x":5.2,"y":0.81},{"k":5,"x":5.3,"y":0.721},{"k":5,"x":5.4,"y":0.613},{"k":5,"x":5.5,"y":0.493},{"k":5,"x":5.6,"y":0.372},{"k":5,"x":5.7,"y":0.259},{"k":5,"x":5.8,"y":0.162},{"k":5,"x":5.9,"y":0.091},{"k":5,"x":6,"y":0.054},{"k":5,"x":6.1,"y":0.039},{"k":5,"x":6.2,"y":0.028},{"k":5,"x":6.3,"y":0.019},{"k":5,"x":6.4,"y":0.012},{"k":5,"x":6.5,"y":0.007},{"k":5,"x":6.6,"y":0.003},{"k":5,"x":6.7,"y":0.001},{"k":5,"x":10,"y":0},
{"k":6,"x":-3,"y":0},{"k":6,"x":4.3,"y":0.001},{"k":6,"x":4.4,"y":0.003},{"k":6,"x":4.5,"y":0.007},{"k":6,"x":4.6,"y":0.012},{"k":6,"x":4.7,"y":0.019},{"k":6,"x":4.8,"y":0.028},{"k":6,"x":4.9,"y":0.039},{"k":6,"x":5,"y":0.054},{"k":6,"x":5.1,"y":0.091},{"k":6,"x":5.2,"y":0.162},{"k":6,"x":5.3,"y":0.259},{"k":6,"x":5.4,"y":0.372},{"k":6,"x":5.5,"y":0.493},{"k":6,"x":5.6,"y":0.613},{"k":6,"x":5.7,"y":0.721},{"k":6,"x":5.8,"y":0.81},{"k":6,"x":5.9,"y":0.87},{"k":6,"x":6,"y":0.892},{"k":6,"x":6.1,"y":0.87},{"k":6,"x":6.2,"y":0.81},{"k":6,"x":6.3,"y":0.721},{"k":6,"x":6.4,"y":0.613},{"k":6,"x":6.5,"y":0.493},{"k":6,"x":6.6,"y":0.372},{"k":6,"x":6.7,"y":0.259},{"k":6,"x":6.8,"y":0.162},{"k":6,"x":6.9,"y":0.091},{"k":6,"x":7,"y":0.054},{"k":6,"x":7.1,"y":0.039},{"k":6,"x":7.2,"y":0.028},{"k":6,"x":7.3,"y":0.019},{"k":6,"x":7.4,"y":0.012},{"k":6,"x":7.5,"y":0.007},{"k":6,"x":7.6,"y":0.003},{"k":6,"x":7.7,"y":0.001},{"k":6,"x":10,"y":0},
{"k":7,"x":-3,"y":0},{"k":7,"x":5.3,"y":0.001},{"k":7,"x":5.4,"y":0.003},{"k":7,"x":5.5,"y":0.007},{"k":7,"x":5.6,"y":0.012},{"k":7,"x":5.7,"y":0.019},{"k":7,"x":5.8,"y":0.028},{"k":7,"x":5.9,"y":0.039},{"k":7,"x":6,"y":0.054},{"k":7,"x":6.1,"y":0.091},{"k":7,"x":6.2,"y":0.162},{"k":7,"x":6.3,"y":0.259},{"k":7,"x":6.4,"y":0.372},{"k":7,"x":6.5,"y":0.493},{"k":7,"x":6.6,"y":0.613},{"k":7,"x":6.7,"y":0.721},{"k":7,"x":6.8,"y":0.81},{"k":7,"x":6.9,"y":0.87},{"k":7,"x":7,"y":0.892},{"k":7,"x":7.1,"y":0.87},{"k":7,"x":7.2,"y":0.81},{"k":7,"x":7.3,"y":0.721},{"k":7,"x":7.4,"y":0.613},{"k":7,"x":7.5,"y":0.493},{"k":7,"x":7.6,"y":0.372},{"k":7,"x":7.7,"y":0.259},{"k":7,"x":7.8,"y":0.162},{"k":7,"x":7.9,"y":0.091},{"k":7,"x":8,"y":0.054},{"k":7,"x":8.1,"y":0.039},{"k":7,"x":8.2,"y":0.028},{"k":7,"x":8.3,"y":0.019},{"k":7,"x":8.4,"y":0.012},{"k":7,"x":8.5,"y":0.007},{"k":7,"x":8.6,"y":0.003},{"k":7,"x":8.7,"y":0.001},{"k":7,"x":10,"y":0},
{"k":8,"x":-3,"y":0},{"k":8,"x":6.3,"y":0.001},{"k":8,"x":6.4,"y":0.003},{"k":8,"x":6.5,"y":0.007},{"k":8,"x":6.6,"y":0.012},{"k":8,"x":6.7,"y":0.019},{"k":8,"x":6.8,"y":0.028},{"k":8,"x":6.9,"y":0.039},{"k":8,"x":7,"y":0.054},{"k":8,"x":7.1,"y":0.091},{"k":8,"x":7.2,"y":0.162},{"k":8,"x":7.3,"y":0.259},{"k":8,"x":7.4,"y":0.372},{"k":8,"x":7.5,"y":0.493},{"k":8,"x":7.6,"y":0.613},{"k":8,"x":7.7,"y":0.721},{"k":8,"x":7.8,"y":0.81},{"k":8,"x":7.9,"y":0.87},{"k":8,"x":8,"y":0.892},{"k":8,"x":8.1,"y":0.87},{"k":8,"x":8.2,"y":0.81},{"k":8,"x":8.3,"y":0.721},{"k":8,"x":8.4,"y":0.613},{"k":8,"x":8.5,"y":0.493},{"k":8,"x":8.6,"y":0.372},{"k":8,"x":8.7,"y":0.259},{"k":8,"x":8.8,"y":0.162},{"k":8,"x":8.9,"y":0.091},{"k":8,"x":9,"y":0.054},{"k":8,"x":9.1,"y":0.039},{"k":8,"x":9.2,"y":0.028},{"k":8,"x":9.3,"y":0.019},{"k":8,"x":9.4,"y":0.012},{"k":8,"x":9.5,"y":0.007},{"k":8,"x":9.6,"y":0.003},{"k":8,"x":9.7,"y":0.001},{"k":8,"x":10,"y":0}
],
"b100": [
{"k":-1,"x":-3,"y":0},{"k":-1,"x":-2.6,"y":0.001},{"k":-1,"x":-2.5,"y":0.002},{"k":-1,"x":-2.4,"y":0.004},{"k":-1,"x":-2.3,"y":0.006},{"k":-1,"x":-2.2,"y":0.009},{"k":-1,"x":-2.1,"y":0.013},{"k":-1,"x":-2,"y":0.018},{"k":-1,"x":-1.9,"y":0.049},{"k":-1,"x":-1.8,"y":0.123},{"k":-1,"x":-1.7,"y":0.23},{"k":-1,"x":-1.6,"y":0.359},{"k":-1,"x":-1.5,"y":0.498},{"k":-1,"x":-1.4,"y":0.636},{"k":-1,"x":-1.3,"y":0.763},{"k":-1,"x":-1.2,"y":0.868},{"k":-1,"x":-1.1,"y":0.938},{"k":-1,"x":-1,"y":0.964},{"k":-1,"x":-0.9,"y":0.938},{"k":-1,"x":-0.8,"y":0.868},{"k":-1,"x":-0.7,"y":0.763},{"k":-1,"x":-0.6,"y":0.636},{"k":-1,"x":-0.5,"y":0.498},{"k":-1,"x":-0.4,"y":0.359},{"k":-1,"x":-0.3,"y":0.23},{"k":-1,"x":-0.2,"y":0.123},{"k":-1,"x":-0.1,"y":0.049},{"k":-1,"x":0,"y":0.018},{"k":-1,"x":0.1,"y":0.013},{"k":-1,"x":0.2,"y":0.009},{"k":-1,"x":0.3,"y":0.006},{"k":-1,"x":0.4,"y":0.004},{"k":-1,"x":0.5,"y":0.002},{"k":-1,"x":0.6,"y":0.001},{"k":-1,"x":10,"y":0},
{"k":0,"x":-3,"y":0},{"k":0,"x":-1.6,"y":0.001},{"k":0,"x":-1.5,"y":0.002},{"k":0,"x":-1.4,"y":0.004},{"k":0,"x":-1.3,"y":0.006},{"k":0,"x":-1.2,"y":0.009},{"k":0,"x":-1.1,"y":0.013},{"k":0,"x":-1,"y":0.018},{"k":0,"x":-0.9,"y":0.049},{"k":0,"x":-0.8,"y":0.123},{"k":0,"x":-0.7,"y":0.23},{"k":0,"x":-0.6,"y":0.359},{"k":0,"x":-0.5,"y":0.498},{"k":0,"x":-0.4,"y":0.636},{"k":0,"x":-0.3,"y":0.763},{"k":0,"x":-0.2,"y":0.868},{"k":0,"x":-0.1,"y":0.938},{"k":0,"x":0,"y":0.964},{"k":0,"x":0.1,"y":0.938},{"k":0,"x":0.2,"y":0.868},{"k":0,"x":0.3,"y":0.763},{"k":0,"x":0.4,"y":0.636},{"k":0,"x":0.5,"y":0.498},{"k":0,"x":0.6,"y":0.359},{"k":0,"x":0.7,"y":0.23},{"k":0,"x":0.8,"y":0.123},{"k":0,"x":0.9,"y":0.049},{"k":0,"x":1,"y":0.018},{"k":0,"x":1.1,"y":0.013},{"k":0,"x":1.2,"y":0.009},{"k":0,"x":1.3,"y":0.006},{"k":0,"x":1.4,"y":0.004},{"k":0,"x":1.5,"y":0.002},{"k":0,"x":1.6,"y":0.001},{"k":0,"x":10,"y":0},
{"k":1,"x":-3,"y":0},{"k":1,"x":-0.6,"y":0.001},{"k":1,"x":-0.5,"y":0.002},{"k":1,"x":-0.4,"y":0.004},{"k":1,"x":-0.3,"y":0.006},{"k":1,"x":-0.2,"y":0.009},{"k":1,"x":-0.1,"y":0.013},{"k":1,"x":0,"y":0.018},{"k":1,"x":0.1,"y":0.049},{"k":1,"x":0.2,"y":0.123},{"k":1,"x":0.3,"y":0.23},{"k":1,"x":0.4,"y":0.359},{"k":1,"x":0.5,"y":0.498},{"k":1,"x":0.6,"y":0.636},{"k":1,"x":0.7,"y":0.763},{"k":1,"x":0.8,"y":0.868},{"k":1,"x":0.9,"y":0.938},{"k":1,"x":1,"y":0.964},{"k":1,"x":1.1,"y":0.938},{"k":1,"x":1.2,"y":0.868},{"k":1,"x":1.3,"y":0.763},{"k":1,"x":1.4,"y":0.636},{"k":1,"x":1.5,"y":0.498},{"k":1,"x":1.6,"y":0.359},{"k":1,"x":1.7,"y":0.23},{"k":1,"x":1.8,"y":0.123},{"k":1,"x":1.9,"y":0.049},{"k":1,"x":2,"y":0.018},{"k":1,"x":2.1,"y":0.013},{"k":1,"x":2.2,"y":0.009},{"k":1,"x":2.3,"y":0.006},{"k":1,"x":2.4,"y":0.004},{"k":1,"x":2.5,"y":0.002},{"k":1,"x":2.6,"y":0.001},{"k":1,"x":10,"y":0},
{"k":2,"x":-3,"y":0},{"k":2,"x":0.4,"y":0.001},{"k":2,"x":0.5,"y":0.002},{"k":2,"x":0.6,"y":0.004},{"k":2,"x":0.7,"y":0.006},{"k":2,"x":0.8,"y":0.009},{"k":2,"x":0.9,"y":0.013},{"k":2,"x":1,"y":0.018},{"k":2,"x":1.1,"y":0.049},{"k":2,"x":1.2,"y":0.123},{"k":2,"x":1.3,"y":0.23},{"k":2,"x":1.4,"y":0.359},{"k":2,"x":1.5,"y":0.498},{"k":2,"x":1.6,"y":0.636},{"k":2,"x":1.7,"y":0.763},{"k":2,"x":1.8,"y":0.868},{"k":2,"x":1.9,"y":0.938},{"k":2,"x":2,"y":0.964},{"k":2,"x":2.1,"y":0.938},{"k":2,"x":2.2,"y":0.868},{"k":2,"x":2.3,"y":0.763},{"k":2,"x":2.4,"y":0.636},{"k":2,"x":2.5,"y":0.498},{"k":2,"x":2.6,"y":0.359},{"k":2,"x":2.7,"y":0.23},{"k":2,"x":2.8,"y":0.123},{"k":2,"x":2.9,"y":0.049},{"k":2,"x":3,"y":0.018},{"k":2,"x":3.1,"y":0.013},{"k":2,"x":3.2,"y":0.009},{"k":2,"x":3.3,"y":0.006},{"k":2,"x":3.4,"y":0.004},{"k":2,"x":3.5,"y":0.002},{"k":2,"x":3.6,"y":0.001},{"k":2,"x":10,"y":0},
{"k":3,"x":-3,"y":0},{"k":3,"x":1.4,"y":0.001},{"k":3,"x":1.5,"y":0.002},{"k":3,"x":1.6,"y":0.004},{"k":3,"x":1.7,"y":0.006},{"k":3,"x":1.8,"y":0.009},{"k":3,"x":1.9,"y":0.013},{"k":3,"x":2,"y":0.018},{"k":3,"x":2.1,"y":0.049},{"k":3,"x":2.2,"y":0.123},{"k":3,"x":2.3,"y":0.23},{"k":3,"x":2.4,"y":0.359},{"k":3,"x":2.5,"y":0.498},{"k":3,"x":2.6,"y":0.636},{"k":3,"x":2.7,"y":0.763},{"k":3,"x":2.8,"y":0.868},{"k":3,"x":2.9,"y":0.938},{"k":3,"x":3,"y":0.964},{"k":3,"x":3.1,"y":0.938},{"k":3,"x":3.2,"y":0.868},{"k":3,"x":3.3,"y":0.763},{"k":3,"x":3.4,"y":0.636},{"k":3,"x":3.5,"y":0.498},{"k":3,"x":3.6,"y":0.359},{"k":3,"x":3.7,"y":0.23},{"k":3,"x":3.8,"y":0.123},{"k":3,"x":3.9,"y":0.049},{"k":3,"x":4,"y":0.018},{"k":3,"x":4.1,"y":0.013},{"k":3,"x":4.2,"y":0.009},{"k":3,"x":4.3,"y":0.006},{"k":3,"x":4.4,"y":0.004},{"k":3,"x":4.5,"y":0.002},{"k":3,"x":4.6,"y":0.001},{"k":3,"x":10,"y":0},
{"k":4,"x":-3,"y":0},{"k":4,"x":2.4,"y":0.001},{"k":4,"x":2.5,"y":0.002},{"k":4,"x":2.6,"y":0.004},{"k":4,"x":2.7,"y":0.006},{"k":4,"x":2.8,"y":0.009},{"k":4,"x":2.9,"y":0.013},{"k":4,"x":3,"y":0.018},{"k":4,"x":3.1,"y":0.049},{"k":4,"x":3.2,"y":0.123},{"k":4,"x":3.3,"y":0.23},{"k":4,"x":3.4,"y":0.359},{"k":4,"x":3.5,"y":0.498},{"k":4,"x":3.6,"y":0.636},{"k":4,"x":3.7,"y":0.763},{"k":4,"x":3.8,"y":0.868},{"k":4,"x":3.9,"y":0.938},{"k":4,"x":4,"y":0.964},{"k":4,"x":4.1,"y":0.938},{"k":4,"x":4.2,"y":0.868},{"k":4,"x":4.3,"y":0.763},{"k":4,"x":4.4,"y":0.636},{"k":4,"x":4.5,"y":0.498},{"k":4,"x":4.6,"y":0.359},{"k":4,"x":4.7,"y":0.23},{"k":4,"x":4.8,"y":0.123},{"k":4,"x":4.9,"y":0.049},{"k":4,"x":5,"y":0.018},{"k":4,"x":5.1,"y":0.013},{"k":4,"x":5.2,"y":0.009},{"k":4,"x":5.3,"y":0.006},{"k":4,"x":5.4,"y":0.004},{"k":4,"x":5.5,"y":0.002},{"k":4,"x":5.6,"y":0.001},{"k":4,"x":10,"y":0},
{"k":5,"x":-3,"y":0},{"k":5,"x":3.4,"y":0.001},{"k":5,"x":3.5,"y":0.002},{"k":5,"x":3.6,"y":0.004},{"k":5,"x":3.7,"y":0.006},{"k":5,"x":3.8,"y":0.009},{"k":5,"x":3.9,"y":0.013},{"k":5,"x":4,"y":0.018},{"k":5,"x":4.1,"y":0.049},{"k":5,"x":4.2,"y":0.123},{"k":5,"x":4.3,"y":0.23},{"k":5,"x":4.4,"y":0.359},{"k":5,"x":4.5,"y":0.498},{"k":5,"x":4.6,"y":0.636},{"k":5,"x":4.7,"y":0.763},{"k":5,"x":4.8,"y":0.868},{"k":5,"x":4.9,"y":0.938},{"k":5,"x":5,"y":0.964},{"k":5,"x":5.1,"y":0.938},{"k":5,"x":5.2,"y":0.868},{"k":5,"x":5.3,"y":0.763},{"k":5,"x":5.4,"y":0.636},{"k":5,"x":5.5,"y":0.498},{"k":5,"x":5.6,"y":0.359},{"k":5,"x":5.7,"y":0.23},{"k":5,"x":5.8,"y":0.123},{"k":5,"x":5.9,"y":0.049},{"k":5,"x":6,"y":0.018},{"k":5,"x":6.1,"y":0.013},{"k":5,"x":6.2,"y":0.009},{"k":5,"x":6.3,"y":0.006},{"k":5,"x":6.4,"y":0.004},{"k":5,"x":6.5,"y":0.002},{"k":5,"x":6.6,"y":0.001},{"k":5,"x":10,"y":0},
{"k":6,"x":-3,"y":0},{"k":6,"x":4.4,"y":0.001},{"k":6,"x":4.5,"y":0.002},{"k":6,"x":4.6,"y":0.004},{"k":6,"x":4.7,"y":0.006},{"k":6,"x":4.8,"y":0.009},{"k":6,"x":4.9,"y":0.013},{"k":6,"x":5,"y":0.018},{"k":6,"x":5.1,"y":0.049},{"k":6,"x":5.2,"y":0.123},{"k":6,"x":5.3,"y":0.23},{"k":6,"x":5.4,"y":0.359},{"k":6,"x":5.5,"y":0.498},{"k":6,"x":5.6,"y":0.636},{"k":6,"x":5.7,"y":0.763},{"k":6,"x":5.8,"y":0.868},{"k":6,"x":5.9,"y":0.938},{"k":6,"x":6,"y":0.964},{"k":6,"x":6.1,"y":0.938},{"k":6,"x":6.2,"y":0.868},{"k":6,"x":6.3,"y":0.763},{"k":6,"x":6.4,"y":0.636},{"k":6,"x":6.5,"y":0.498},{"k":6,"x":6.6,"y":0.359},{"k":6,"x":6.7,"y":0.23},{"k":6,"x":6.8,"y":0.123},{"k":6,"x":6.9,"y":0.049},{"k":6,"x":7,"y":0.018},{"k":6,"x":7.1,"y":0.013},{"k":6,"x":7.2,"y":0.009},{"k":6,"x":7.3,"y":0.006},{"k":6,"x":7.4,"y":0.004},{"k":6,"x":7.5,"y":0.002},{"k":6,"x":7.6,"y":0.001},{"k":6,"x":10,"y":0},
{"k":7,"x":-3,"y":0},{"k":7,"x":5.4,"y":0.001},{"k":7,"x":5.5,"y":0.002},{"k":7,"x":5.6,"y":0.004},{"k":7,"x":5.7,"y":0.006},{"k":7,"x":5.8,"y":0.009},{"k":7,"x":5.9,"y":0.013},{"k":7,"x":6,"y":0.018},{"k":7,"x":6.1,"y":0.049},{"k":7,"x":6.2,"y":0.123},{"k":7,"x":6.3,"y":0.23},{"k":7,"x":6.4,"y":0.359},{"k":7,"x":6.5,"y":0.498},{"k":7,"x":6.6,"y":0.636},{"k":7,"x":6.7,"y":0.763},{"k":7,"x":6.8,"y":0.868},{"k":7,"x":6.9,"y":0.938},{"k":7,"x":7,"y":0.964},{"k":7,"x":7.1,"y":0.938},{"k":7,"x":7.2,"y":0.868},{"k":7,"x":7.3,"y":0.763},{"k":7,"x":7.4,"y":0.636},{"k":7,"x":7.5,"y":0.498},{"k":7,"x":7.6,"y":0.359},{"k":7,"x":7.7,"y":0.23},{"k":7,"x":7.8,"y":0.123},{"k":7,"x":7.9,"y":0.049},{"k":7,"x":8,"y":0.018},{"k":7,"x":8.1,"y":0.013},{"k":7,"x":8.2,"y":0.009},{"k":7,"x":8.3,"y":0.006},{"k":7,"x":8.4,"y":0.004},{"k":7,"x":8.5,"y":0.002},{"k":7,"x":8.6,"y":0.001},{"k":7,"x":10,"y":0},
{"k":8,"x":-3,"y":0},{"k":8,"x":6.4,"y":0.001},{"k":8,"x":6.5,"y":0.002},{"k":8,"x":6.6,"y":0.004},{"k":8,"x":6.7,"y":0.006},{"k":8,"x":6.8,"y":0.009},{"k":8,"x":6.9,"y":0.013},{"k":8,"x":7,"y":0.018},{"k":8,"x":7.1,"y":0.049},{"k":8,"x":7.2,"y":0.123},{"k":8,"x":7.3,"y":0.23},{"k":8,"x":7.4,"y":0.359},{"k":8,"x":7.5,"y":0.498},{"k":8,"x":7.6,"y":0.636},{"k":8,"x":7.7,"y":0.763},{"k":8,"x":7.8,"y":0.868},{"k":8,"x":7.9,"y":0.938},{"k":8,"x":8,"y":0.964},{"k":8,"x":8.1,"y":0.938},{"k":8,"x":8.2,"y":0.868},{"k":8,"x":8.3,"y":0.763},{"k":8,"x":8.4,"y":0.636},{"k":8,"x":8.5,"y":0.498},{"k":8,"x":8.6,"y":0.359},{"k":8,"x":8.7,"y":0.23},{"k":8,"x":8.8,"y":0.123},{"k":8,"x":8.9,"y":0.049},{"k":8,"x":9,"y":0.018},{"k":8,"x":9.1,"y":0.013},{"k":8,"x":9.2,"y":0.009},{"k":8,"x":9.3,"y":0.006},{"k":8,"x":9.4,"y":0.004},{"k":8,"x":9.5,"y":0.002},{"k":8,"x":9.6,"y":0.001},{"k":8,"x":10,"y":0}
]
},
"encoding": {
"x": {"field": "x", "type": "quantitative", "scale": {"domain": [-3.6, 12.6], "nice": false, "zero": false}, "axis": {"values": [0, 5, 10], "title": "knots"}},
"y": {"field": "y", "type": "quantitative", "scale": {"domain": [-0.04, 1.04], "nice": false, "zero": false}, "axis": {"values": [0, 0.2, 0.4, 0.6, 0.8, 1], "format": ".1f", "title": null}},
"detail": {"field": "k", "type": "nominal"}
},
"layer": [
{"data": {"name": "b0"}, "mark": {"type": "line", "strokeWidth": 1.4}, "encoding": {"color": {"datum": "β₁=1, β₂=0", "type": "nominal", "scale": {"domain": ["β₁=1, β₂=0", "β₁=1, β₂=5", "β₁=1, β₂=25", "β₁=1, β₂=100"], "range": ["#000000", "#DF536B", "#61D04F", "#2297E6"]}, "legend": {"orient": "none", "legendX": 740, "legendY": 0, "title": null}}}},
{"data": {"name": "b5"}, "mark": {"type": "line", "strokeWidth": 1.4}, "encoding": {"color": {"datum": "β₁=1, β₂=5", "type": "nominal"}}},
{"data": {"name": "b25"}, "mark": {"type": "line", "strokeWidth": 1.4}, "encoding": {"color": {"datum": "β₁=1, β₂=25", "type": "nominal"}}},
{"data": {"name": "b100"}, "mark": {"type": "line", "strokeWidth": 1.4}, "encoding": {"color": {"datum": "β₁=1, β₂=100", "type": "nominal"}}}
],
"config": {
"view": {"stroke": "black", "strokeWidth": 1},
"axis": {"domain": false, "grid": false, "tickColor": "black", "tickSize": 13, "tickWidth": 1, "labelFont": "Liberation Sans", "labelFontSize": 21.7, "labelColor": "black", "titleFont": "Liberation Sans", "titleFontSize": 21.7, "titleFontWeight": "normal", "titleColor": "black", "labelFlush": false, "labelOverlap": false, "labelBound": false},
"axisX": {"labelBaseline": "alphabetic", "labelPadding": 33, "titleBaseline": "alphabetic", "titleY": 98},
"axisY": {"labelAngle": 270, "labelAlign": "center", "labelBaseline": "alphabetic", "labelPadding": 4},
"legend": {"strokeColor": "black", "strokeWidth": 1, "fillColor": "white", "padding": 12, "cornerRadius": 0, "symbolType": "stroke", "symbolSize": 784, "symbolStrokeWidth": 1.5, "symbolOffset": 3, "clipHeight": 14, "rowPadding": 4, "labelOffset": 12, "labelFont": "Liberation Sans", "labelFontSize": 15, "labelColor": "black", "labelLimit": 0}
}
}
